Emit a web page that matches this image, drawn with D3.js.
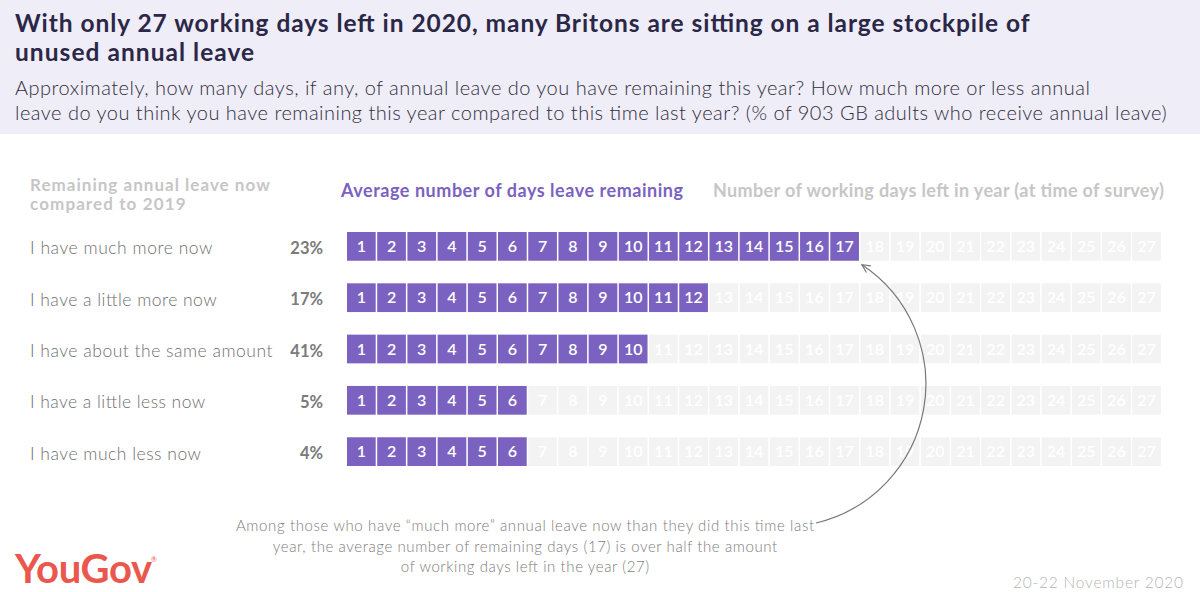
<!DOCTYPE html>
<html><head><meta charset="utf-8">
<script src="https://cdn.jsdelivr.net/npm/d3@7"></script>
<style>body{margin:0;background:#fff}svg{display:block}</style>
</head><body><svg id="c" width="1200" height="592"></svg>
<script>
const categories = ["I have much more now","I have a little more now","I have about the same amount","I have a little less now","I have much less now"];
const shares = [23,17,41,5,4];
const avgDays = [17,12,10,6,6];
const workingDaysLeft = 27;
const titleLines = ["With only 27 working days left in 2020, many Britons are sitting on a large stockpile of","unused annual leave"];
const subtitleLines = ["Approximately, how many days, if any, of annual leave do you have remaining this year? How much more or less annual","leave do you think you have remaining this year compared to this time last year? (% of 903 GB adults who receive annual leave)"];
const noteLines = ["Among those who have \u201cmuch more\u201d annual leave now than they did this time last","year, the average number of remaining days (17) is over half the amount","of working days left in the year (27)"];

const svg = d3.select("#c");
const F = "Lato, 'Open Sans', sans-serif";
const purple = "#7b62c1";

// stretch text horizontally to emulate the wider original typeface
function widen(sel, factor) {
  sel.each(function(){
    const w = this.getComputedTextLength();
    d3.select(this).attr("textLength", w*factor).attr("lengthAdjust","spacing");
  });
}
function fit(sel, target) {
  sel.attr("textLength", target).attr("lengthAdjust","spacing");
}

svg.append("rect").attr("x",0).attr("y",0).attr("width",1200).attr("height",134).attr("fill","#efedf7");
const tl = svg.append("text").attr("font-family",F).attr("font-weight",700).attr("font-size",24.5).attr("fill","#2a2747")
  .selectAll("tspan").data(titleLines).join("tspan").attr("x",15).attr("y",(d,i)=>32+i*29).text(d=>d);
widen(tl, 1.085);
const sl = svg.append("text").attr("font-family",F).attr("font-weight",300).attr("font-size",20).attr("fill","#2f2d3d")
  .selectAll("tspan").data(subtitleLines).join("tspan").attr("x",15).attr("y",(d,i)=>95+i*24.5).text(d=>d);
widen(sl, 1.055);

// column headers
const h1 = svg.append("text").attr("font-family",F).attr("font-weight",700).attr("font-size",17).attr("fill","#c6c6c6")
  .selectAll("tspan").data(["Remaining annual leave now","compared to 2019"]).join("tspan").attr("x",30).attr("y",(d,i)=>191+i*19).text(d=>d);
widen(h1, 1.12);
fit(svg.append("text").attr("font-family",F).attr("font-weight",700).attr("font-size",18).attr("fill",purple)
  .attr("x",341).attr("y",197).text("Average number of days leave remaining"), 342);
fit(svg.append("text").attr("font-family",F).attr("font-weight",700).attr("font-size",18).attr("fill","#c6c6c6")
  .attr("x",713).attr("y",197).text("Number of working days left in year (at time of survey)"), 451);

const days = d3.range(1, workingDaysLeft+1);
const x = d3.scaleBand().domain(days).range([347,1161]).paddingInner(0.05).paddingOuter(0);
const y = d3.scaleBand().domain(categories).range([232,466]).paddingInner(0.44).paddingOuter(0);

const rows = svg.selectAll("g.row").data(categories.map((c,i)=>({c,share:shares[i],avg:avgDays[i]}))).join("g").attr("class","row")
  .attr("transform",d=>`translate(0,${y(d.c)})`);
const rl = rows.append("text").attr("x",30).attr("y",y.bandwidth()/2+2).attr("dy","0.35em").attr("font-family",F).attr("font-weight",300)
  .attr("font-size",17.5).attr("fill","#6f6f6f").text(d=>d.c);
widen(rl, 1.06);
rows.append("text").attr("x",323).attr("y",y.bandwidth()/2+2).attr("dy","0.35em").attr("text-anchor","end").attr("font-family",F).attr("font-weight",700)
  .attr("font-size",16.5).attr("fill","#7a7a7a").text(d=>d.share+"%");
const cells = rows.selectAll("g.cell").data(d=>days.map(k=>({k,on:k<=d.avg}))).join("g").attr("class","cell")
  .attr("transform",d=>`translate(${x(d.k)},0)`);
cells.append("rect").attr("width",x.bandwidth()).attr("height",y.bandwidth()).attr("fill",d=>d.on?purple:"#f3f3f3");
cells.append("text").attr("x",x.bandwidth()/2).attr("y",y.bandwidth()/2).attr("dy","0.36em").attr("text-anchor","middle")
  .attr("font-family",F).attr("font-weight",600).attr("font-size",16).attr("fill","#fff").text(d=>d.k);

// annotation
const defs = svg.append("defs");
defs.append("marker").attr("id","ah").attr("viewBox","0 0 10 10").attr("refX",9).attr("refY",5).attr("markerWidth",10).attr("markerHeight",10)
  .attr("orient","auto").attr("markerUnits","userSpaceOnUse")
  .append("path").attr("d","M1,1 L9,5 L1,9").attr("fill","none").attr("stroke","#777").attr("stroke-width",1.2);
const startX = 816, startY = 523;
const endX = x(avgDays[0]) + x.bandwidth() + 3, endY = y(categories[0]) + y.bandwidth() + 4;
svg.append("path").attr("d",`M${startX},${startY} A143,143 0 0 0 ${endX},${endY}`).attr("fill","none")
  .attr("stroke","#777").attr("stroke-width",1.2).attr("marker-end","url(#ah)");
const nt = svg.append("text").attr("font-family",F).attr("font-weight",300).attr("font-size",15).attr("fill","#7d7d7d").attr("text-anchor","middle")
  .selectAll("tspan").data(noteLines).join("tspan").attr("x",525).attr("y",(d,i)=>531+i*20.5).text(d=>d);
widen(nt, 1.09);

// logo & date
fit(svg.append("text").attr("x",15).attr("y",583).attr("font-family",F).attr("font-weight",700).attr("font-size",40)
  .attr("fill","#e9574d").text("YouGov"), 137);
svg.append("text").attr("x",151).attr("y",562).attr("font-family",F).attr("font-size",7).attr("fill","#e9574d").text("\u00ae");
fit(svg.append("text").attr("x",1013).attr("y",588).attr("font-family",F).attr("font-weight",300)
  .attr("font-size",15.5).attr("fill","#b5b5b5").text("20-22 November 2020"), 170);
</script></body></html>
